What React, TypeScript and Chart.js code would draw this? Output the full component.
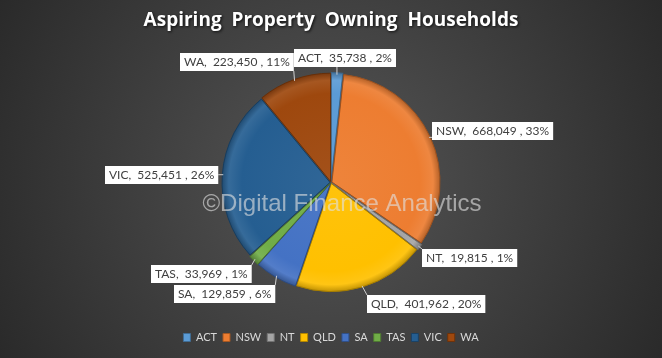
import React, { useEffect, useRef } from 'react';
import { Chart, registerables } from 'chart.js';

Chart.register(...registerables);

const TITLE = 'Aspiring  Property  Owning  Households';
const WATERMARK = '©Digital Finance Analytics';
const CATEGORIES = ['ACT', 'NSW', 'NT', 'QLD', 'SA', 'TAS', 'VIC', 'WA'];
const HOUSEHOLDS = [35738, 668049, 19815, 401962, 129859, 33969, 525451, 223450];
const PERCENT_LABELS = ['2%', '33%', '1%', '20%', '6%', '1%', '26%', '11%'];

const COLORS = ['#5B9BD5', '#ED7D31', '#A5A5A5', '#FFC000', '#4472C4', '#70AD47', '#255E91', '#9E480E'];
// label box offset from the slice's outer mid-point (layout only)
const LABEL_NUDGE: [number, number][] = [
  [8, -17], [63, -6], [51, 12], [64, 18], [-52, 18], [-54, 15], [-62, 0], [-58, -19],
];

function shade(hex: string, f: number): string {
  const n = parseInt(hex.slice(1), 16);
  let r = (n >> 16) & 255, g = (n >> 8) & 255, b = n & 255;
  if (f >= 0) {
    r = r + (255 - r) * f; g = g + (255 - g) * f; b = b + (255 - b) * f;
  } else {
    r = r * (1 + f); g = g * (1 + f); b = b * (1 + f);
  }
  return `rgb(${Math.round(r)},${Math.round(g)},${Math.round(b)})`;
}

const bgPlugin = {
  id: 'bg',
  beforeDraw(chart: any) {
    const { ctx, width, height } = chart;
    ctx.save();
    const g = ctx.createRadialGradient(width / 2, height / 2, 0, width / 2, height / 2, width * 0.62);
    g.addColorStop(0, '#555555');
    g.addColorStop(1, '#262626');
    ctx.fillStyle = g;
    ctx.fillRect(0, 0, width, height);
    // title
    ctx.font = 'bold 19px "Open Sans"';
    ctx.textAlign = 'center';
    ctx.textBaseline = 'middle';
    ctx.shadowColor = 'rgba(0,0,0,0.8)';
    ctx.shadowBlur = 3;
    ctx.shadowOffsetX = 1;
    ctx.shadowOffsetY = 1;
    ctx.fillStyle = '#ffffff';
    ctx.fillText(TITLE, width / 2, 21);
    ctx.restore();
  },
};

const labelPlugin = {
  id: 'sliceLabels',
  afterDatasetsDraw(chart: any) {
    const { ctx } = chart;
    const meta = chart.getDatasetMeta(0);
    const c0 = meta.data[0];
    ctx.save();
    // watermark
    ctx.font = '24px "Liberation Sans"';
    ctx.textAlign = 'center';
    ctx.textBaseline = 'middle';
    ctx.fillStyle = 'rgba(225,225,225,0.62)';
    ctx.fillText(WATERMARK, c0.x + 11, c0.y + 22);

    ctx.font = '12px Lato';
    meta.data.forEach((arc: any, i: number) => {
      const { x, y, startAngle, endAngle, outerRadius } = arc.getProps(['x', 'y', 'startAngle', 'endAngle', 'outerRadius'], true);
      const mid = (startAngle + endAngle) / 2;
      const ax = x + Math.cos(mid) * outerRadius;
      const ay = y + Math.sin(mid) * outerRadius;
      const bx = ax + LABEL_NUDGE[i][0];
      const by = ay + LABEL_NUDGE[i][1];
      const text = `${CATEGORIES[i]},  ${HOUSEHOLDS[i].toLocaleString('en-US')} , ${PERCENT_LABELS[i]}`;
      const tw = ctx.measureText(text).width;
      const w = tw + 8, h = 18;
      const left = Math.round(bx - w / 2), top = Math.round(by - h / 2);
      const px = Math.min(Math.max(ax, left), left + w);
      const py = Math.min(Math.max(ay, top), top + h);
      if (Math.hypot(px - ax, py - ay) > 1.5) {
        ctx.strokeStyle = '#d0d0d0';
        ctx.lineWidth = 1;
        ctx.beginPath();
        ctx.moveTo(ax, ay);
        ctx.lineTo(px, py);
        ctx.stroke();
      }
      ctx.fillStyle = '#ffffff';
      ctx.fillRect(left, top, w, h);
      ctx.fillStyle = '#404040';
      ctx.textAlign = 'left';
      ctx.textBaseline = 'middle';
      ctx.fillText(text, left + 4, top + h / 2 + 0.5);
    });
    ctx.restore();
  },
};

export default function App() {
  const ref = useRef<HTMLCanvasElement | null>(null);
  useEffect(() => {
    if (!ref.current) return;
    const chart = new Chart(ref.current, {
      type: 'pie',
      data: {
        labels: CATEGORIES,
        datasets: [
          {
            data: HOUSEHOLDS,
            backgroundColor: (c: any) => {
              const base = COLORS[c.dataIndex] || '#888';
              const area = c.chart.chartArea;
              if (!area) return base;
              const cx = (area.left + area.right) / 2;
              const cy = (area.top + area.bottom) / 2;
              const r = 110;
              const g = c.chart.ctx.createRadialGradient(cx, cy, 0, cx, cy, r);
              g.addColorStop(0, shade(base, 0.05));
              g.addColorStop(0.8, base);
              g.addColorStop(0.92, shade(base, 0.08));
              g.addColorStop(1, shade(base, -0.3));
              return g;
            },
            borderColor: COLORS.map((c) => shade(c, -0.35)),
            borderWidth: 1,
            offset: 4,
            radius: 108,
          },
        ],
      },
      options: {
        animation: false,
        responsive: false,
        maintainAspectRatio: false,
        devicePixelRatio: 1,
        rotation: 0,
        layout: { padding: { top: 39, bottom: 5, left: 0, right: 0 } },
        plugins: {
          title: { display: false },
          tooltip: { enabled: false },
          legend: {
            display: true,
            position: 'bottom',
            labels: {
              color: '#d9d9d9',
              font: { size: 11, family: 'Lato' },
              boxWidth: 7,
              boxHeight: 8,
              padding: 6,
              generateLabels: (chart: any) =>
                CATEGORIES.map((c, i) => ({
                  text: c,
                  fillStyle: COLORS[i],
                  strokeStyle: shade(COLORS[i], -0.3),
                  lineWidth: 1,
                  fontColor: '#d9d9d9',
                  hidden: false,
                  index: i,
                })),
            },
          },
        },
      },
      plugins: [bgPlugin, labelPlugin],
    });
    return () => chart.destroy();
  }, []);
  return (
    <div style={{ position: 'fixed', left: 0, top: 0, width: 662, height: 358 }}>
      <canvas ref={ref} width={662} height={358} />
    </div>
  );
}
